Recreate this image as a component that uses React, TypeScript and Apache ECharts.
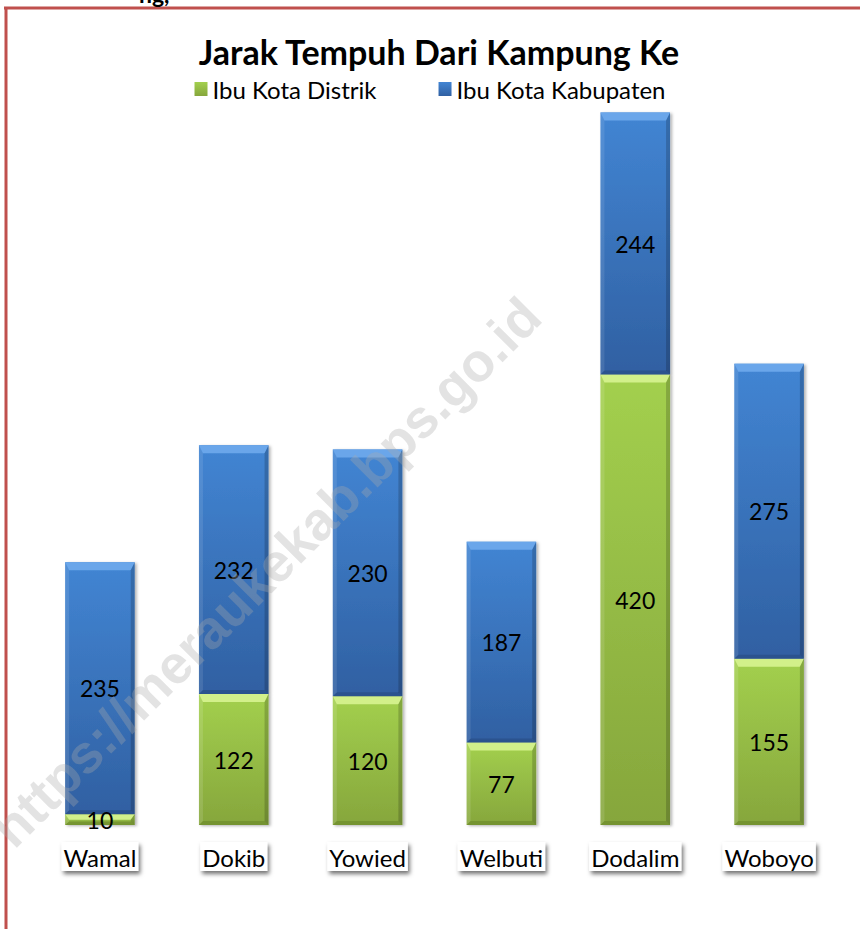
import React, { useEffect, useRef } from "react";
import * as echarts from "echarts";

const categories = ["Wamal", "Dokib", "Yowied", "Welbuti", "Dodalim", "Woboyo"];
const distrik = [10, 122, 120, 77, 420, 155];
const kabupaten = [235, 232, 230, 187, 244, 275];
const seriesNames = ["Ibu Kota Distrik", "Ibu Kota Kabupaten"];
const titleText = "Jarak Tempuh Dari Kampung Ke";
const watermark = "https://meraukekab.bps.go.id";

const FONT = "Lato, 'Open Sans', sans-serif";

const greenFace = new echarts.graphic.LinearGradient(0, 0, 0, 1, [
  { offset: 0, color: "#a3d04e" },
  { offset: 1, color: "#86a63c" },
]);
const blueFace = new echarts.graphic.LinearGradient(0, 0, 0, 1, [
  { offset: 0, color: "#4285d3" },
  { offset: 1, color: "#3060a2" },
]);

export default function App() {
  const ref = useRef<HTMLDivElement>(null);
  useEffect(() => {
    if (!ref.current) return;
    const chart = echarts.init(ref.current, null, { renderer: "svg" });

    const bevelData: number[][] = [];
    categories.forEach((_, i) => {
      bevelData.push([i, 0, distrik[i], 0, distrik[i]]);
      bevelData.push([i, distrik[i], distrik[i] + kabupaten[i], 1, kabupaten[i]]);
    });

    const bevelColors = [
      { top: "#d2f08a", bottom: "#6d8c2c", left: "rgba(255,255,255,0.12)", right: "rgba(0,0,0,0.18)" },
      { top: "#6aa6ea", bottom: "#284f86", left: "rgba(255,255,255,0.10)", right: "rgba(0,0,0,0.18)" },
    ];

    const barStyle = (color: any) => ({
      color,
      shadowColor: "rgba(0,0,0,0.3)",
      shadowBlur: 3,
      shadowOffsetX: 2,
      shadowOffsetY: 1,
    });

    chart.setOption({
      animation: false,
      backgroundColor: "#ffffff",
      title: {
        text: titleText,
        left: 434,
        textAlign: "center",
        top: 29,
        textStyle: { fontFamily: FONT, fontSize: 34, fontWeight: "bold", color: "#000" },
      },
      legend: {
        data: seriesNames,
        top: 72,
        left: "center",
        itemWidth: 13,
        itemHeight: 14,
        itemGap: 62,
        icon: "rect",
        textStyle: { fontFamily: FONT, fontSize: 24, color: "#000" },
      },
      grid: { left: 33, right: 24, top: 74, bottom: 104 },
      xAxis: {
        type: "category",
        data: categories,
        axisLine: {
          lineStyle: {
            color: "#f79646",
            width: 2,
            shadowColor: "rgba(0,0,0,0.18)",
            shadowBlur: 4,
            shadowOffsetY: 3,
          },
        },
        axisTick: { show: false },
        axisLabel: {
          margin: 17,
          fontFamily: FONT,
          fontSize: 24,
          color: "#000",
          backgroundColor: "#fff",
          padding: [3, 2, 2, 2],
          shadowColor: "rgba(0,0,0,0.55)",
          shadowBlur: 4,
          shadowOffsetX: 2,
          shadowOffsetY: 3,
        },
      },
      yAxis: {
        type: "value",
        min: 0,
        max: 700,
        show: false,
        splitLine: { show: false },
      },
      series: [
        {
          name: seriesNames[0],
          type: "bar",
          stack: "total",
          barWidth: "52%",
          data: distrik,
          itemStyle: barStyle(greenFace),
        },
        {
          name: seriesNames[1],
          type: "bar",
          stack: "total",
          barWidth: "52%",
          data: kabupaten,
          itemStyle: barStyle(blueFace),
        },
        {
          type: "custom",
          silent: true,
          z: 3,
          data: bevelData,
          renderItem: (params: any, api: any) => {
            const i = api.value(0);
            const y0 = api.value(1);
            const y1 = api.value(2);
            const s = api.value(3);
            const v = api.value(4);
            const pb = api.coord([i, y0]);
            const pt = api.coord([i, y1]);
            const w = api.size([1, 0])[0] * 0.52;
            const x0 = pb[0] - w / 2;
            const x1 = pb[0] + w / 2;
            const yb = pb[1];
            const yt = pt[1];
            const h = yb - yt;
            const bt = Math.min(8, h / 2);
            const bs = Math.min(4, w / 4);
            const bb = Math.min(4, h / 3);
            const c = bevelColors[s];
            return {
              type: "group",
              children: [
                {
                  type: "polygon",
                  shape: { points: [[x0, yt], [x1, yt], [x1 - bs, yt + bt], [x0 + bs, yt + bt]] },
                  style: { fill: c.top },
                },
                {
                  type: "polygon",
                  shape: { points: [[x0, yb], [x1, yb], [x1 - bs, yb - bb], [x0 + bs, yb - bb]] },
                  style: { fill: c.bottom, opacity: 0.7 },
                },
                {
                  type: "polygon",
                  shape: { points: [[x0, yt], [x0 + bs, yt + bt], [x0 + bs, yb - bb], [x0, yb]] },
                  style: { fill: c.left },
                },
                {
                  type: "polygon",
                  shape: { points: [[x1, yt], [x1 - bs, yt + bt], [x1 - bs, yb - bb], [x1, yb]] },
                  style: { fill: c.right },
                },
                {
                  type: "text",
                  z2: 10,
                  x: pb[0],
                  y: (yb + yt) / 2,
                  style: {
                    text: String(v),
                    font: `23px ${FONT}`,
                    fill: "#000",
                    align: "center",
                    verticalAlign: "middle",
                  },
                },
              ],
            };
          },
        },
      ],
      graphic: [
        {
          type: "line",
          z: 100,
          shape: { x1: 6, y1: 8, x2: 6, y2: 929 },
          style: { stroke: "#c0504d", lineWidth: 3 },
        },
        {
          type: "line",
          z: 100,
          shape: { x1: 4, y1: 8, x2: 860, y2: 8 },
          style: { stroke: "#c0504d", lineWidth: 3 },
        },
        {
          type: "text",
          z: 100,
          x: 139,
          y: -18,
          style: { text: "ng,", font: `bold 23px ${FONT}`, fill: "#000" },
        },
        {
          type: "text",
          z: 200,
          x: 266,
          y: 572,
          rotation: Math.PI / 4,
          silent: true,
          style: {
            text: watermark,
            font: `bold 54px Arial, 'Liberation Sans', sans-serif`,
            fill: "rgba(170,170,170,0.33)",
            align: "center",
            verticalAlign: "middle",
          },
        },
      ],
    });
    return () => chart.dispose();
  }, []);
  return (
    <div
      ref={ref}
      style={{ position: "absolute", left: 0, top: 0, width: 860, height: 929 }}
    />
  );
}
